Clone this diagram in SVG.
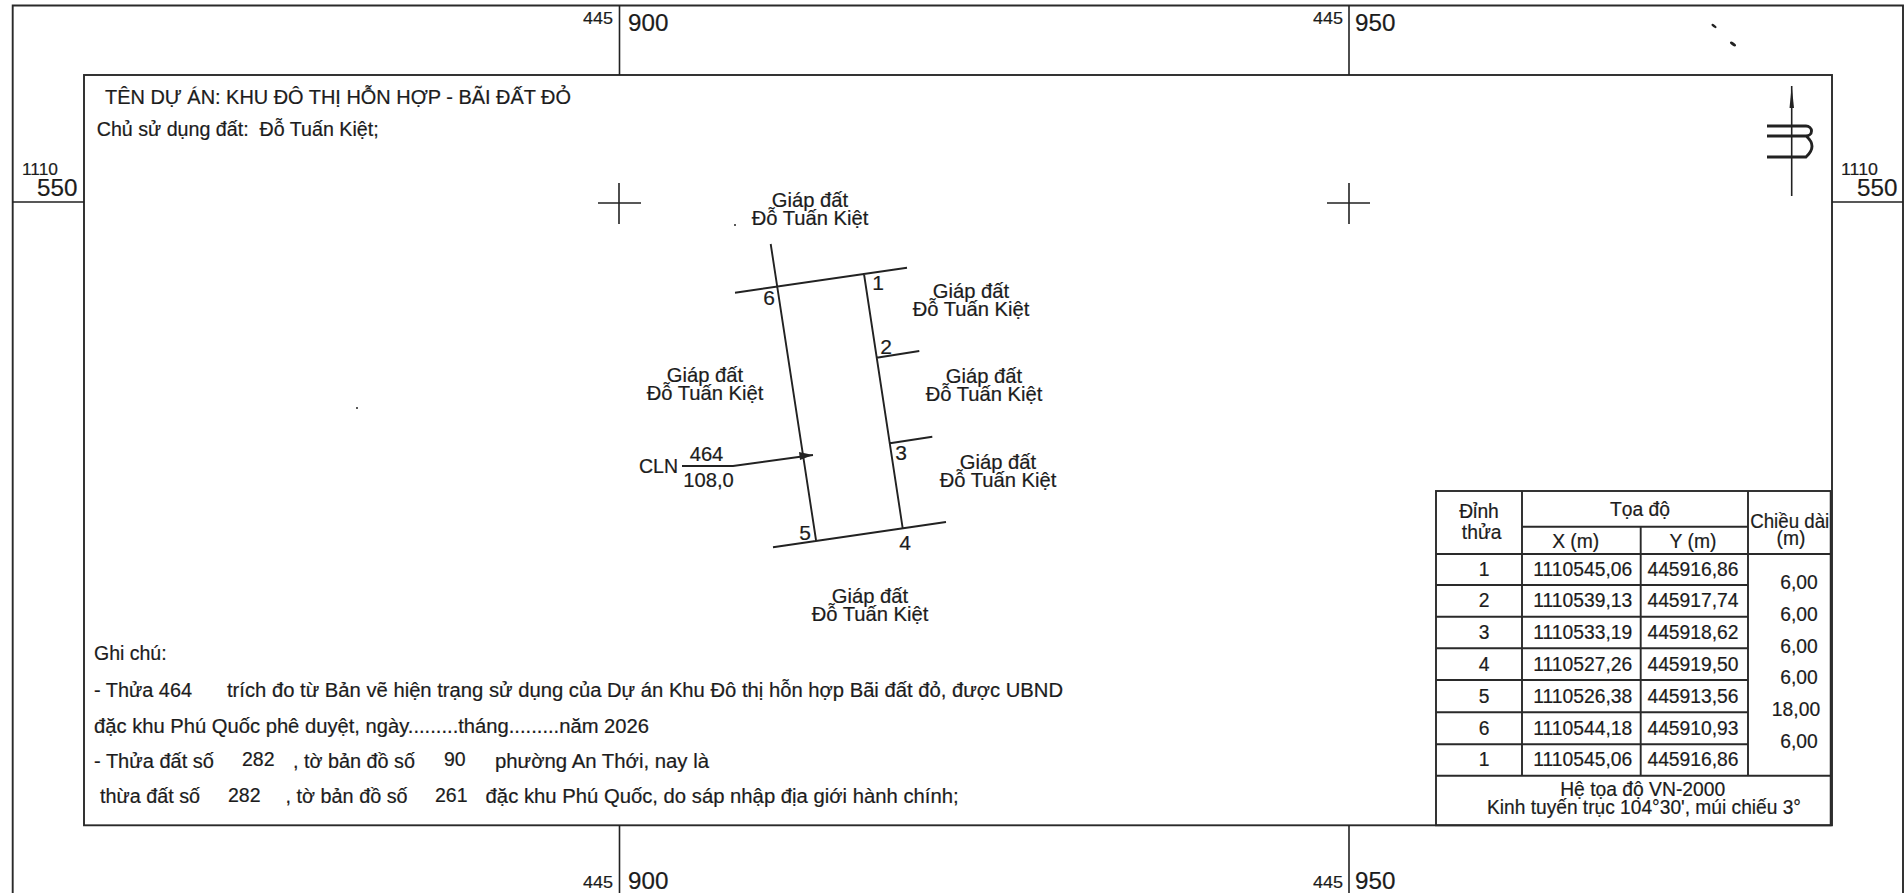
<svg xmlns="http://www.w3.org/2000/svg" width="1904" height="893" viewBox="0 0 1904 893">
<style>
text{font-family:"Liberation Sans",Arial,sans-serif;fill:#1c1c1c;font-size:19.5px;stroke:#1c1c1c;stroke-width:.2px}
.m{text-anchor:middle}
.t{font-size:19.3px;text-anchor:middle}
.b{font-size:20.2px;text-anchor:middle}
.n{font-size:21px;text-anchor:middle}
.big{font-size:24.2px}
.sm{font-size:16.8px}
.l{stroke:#222;stroke-width:1.6;fill:none}
.f{stroke:#2a2a2a;stroke-width:1.9;fill:none}
.g{stroke:#222;stroke-width:1.9;fill:none}
</style>
<rect width="1904" height="893" fill="#fff"/>
<g id="frame">
<path class="f" d="M12.700 893V5.500H1903V893"/>
<rect class="f" x="84" y="75" width="1748" height="750.300"/>
<path class="l" d="M619.500 5.500V75M1349 5.500V75M619.500 825V893M1349 825V893M12.700 202H84M1832 202H1903"/>
<path class="l" d="M598 203H641M619 183V224M1327 203H1370M1349 183V224"/>
</g>
<g id="grid-labels">
<text class="sm" x="583" y="24" textLength="30" lengthAdjust="spacingAndGlyphs">445</text><text class="big" x="628" y="31">900</text>
<text class="sm" x="1313" y="24" textLength="30" lengthAdjust="spacingAndGlyphs">445</text><text class="big" x="1355" y="31">950</text>
<text class="sm" x="583" y="888" textLength="30" lengthAdjust="spacingAndGlyphs">445</text><text class="big" x="628" y="889">900</text>
<text class="sm" x="1313" y="888" textLength="30" lengthAdjust="spacingAndGlyphs">445</text><text class="big" x="1355" y="889">950</text>
<text class="sm" x="22" y="175" textLength="36" lengthAdjust="spacingAndGlyphs">1110</text><text class="big" x="37" y="196">550</text>
<text class="sm" x="1841" y="175" textLength="37" lengthAdjust="spacingAndGlyphs">1110</text><text class="big" x="1857" y="196">550</text>
</g>
<g id="header">
<text x="105" y="103.500" textLength="466" lengthAdjust="spacingAndGlyphs">TÊN DỰ ÁN: KHU ĐÔ THỊ HỖN HỢP - BÃI ĐẤT ĐỎ</text>
<text x="96.700" y="135.700" textLength="282" lengthAdjust="spacingAndGlyphs" xml:space="preserve">Chủ sử dụng đất:  Đỗ Tuấn Kiệt;</text>
</g>
<g id="north-arrow">
<path class="l" d="M1791.700 86V196"/>
<path d="M1791.700 86L1789.500 108H1794Z" fill="#222"/>
<path d="M1767 126H1806A5.500 5 0 0 1 1806 136H1767M1806 136Q1818 146 1806 157H1767" fill="none" stroke="#222" stroke-width="2.900"/>
</g>
<g id="connectors">
<path class="g" d="M735 292.700L907 267.700M770.700 244L816 540M773 547.300L946 522M864 274L902.700 528.300M876.700 357.700L919.300 351M890 443.300L932.300 436.700"/>
<path class="g" d="M682 466H733L813 455"/>
<path d="M799 452L813 455L800 460Z" fill="#222"/>
</g>
<g id="parcel-labels">
<text class="n" x="769" y="305">6</text>
<text class="n" x="878" y="290">1</text>
<text class="n" x="886" y="354">2</text>
<text class="n" x="901" y="460">3</text>
<text class="n" x="905" y="550">4</text>
<text class="n" x="805" y="540">5</text>
<text x="639" y="473">CLN</text>
<text class="b" x="706.500" y="461">464</text>
<text class="b" x="708.500" y="487">108,0</text>
</g>
<g id="neighbour-top"><text class="b" x="810" y="207">Giáp đất</text><text class="b" x="810" y="225">Đỗ Tuấn Kiệt</text></g>
<g id="neighbour-right-1"><text class="b" x="971" y="298">Giáp đất</text><text class="b" x="971" y="316">Đỗ Tuấn Kiệt</text></g>
<g id="neighbour-right-2"><text class="b" x="984" y="383">Giáp đất</text><text class="b" x="984" y="401">Đỗ Tuấn Kiệt</text></g>
<g id="neighbour-right-3"><text class="b" x="998" y="469">Giáp đất</text><text class="b" x="998" y="487">Đỗ Tuấn Kiệt</text></g>
<g id="neighbour-left"><text class="b" x="705" y="382">Giáp đất</text><text class="b" x="705" y="400">Đỗ Tuấn Kiệt</text></g>
<g id="neighbour-bottom"><text class="b" x="870" y="603">Giáp đất</text><text class="b" x="870" y="621">Đỗ Tuấn Kiệt</text></g>
<g id="notes">
<text x="94" y="660">Ghi chú:</text>
<text x="94" y="697" textLength="98" lengthAdjust="spacingAndGlyphs">- Thửa 464</text>
<text x="227" y="697" textLength="836" lengthAdjust="spacingAndGlyphs">trích đo từ Bản vẽ hiện trạng sử dụng của Dự án Khu Đô thị hỗn hợp Bãi đất đỏ, được UBND</text>
<text x="94" y="733" textLength="555" lengthAdjust="spacingAndGlyphs">đặc khu Phú Quốc phê duyệt, ngày.........tháng.........năm 2026</text>
<text x="94" y="768.300" textLength="120" lengthAdjust="spacingAndGlyphs">- Thửa đất số</text>
<text x="242" y="766">282</text>
<text x="293" y="768.300" textLength="122" lengthAdjust="spacingAndGlyphs">, tờ bản đồ số</text>
<text x="444" y="766">90</text>
<text x="495" y="768.300" textLength="214" lengthAdjust="spacingAndGlyphs">phường An Thới, nay là</text>
<text x="100" y="803.300" textLength="100" lengthAdjust="spacingAndGlyphs">thừa đất số</text>
<text x="228" y="802">282</text>
<text x="285.600" y="803.300" textLength="122" lengthAdjust="spacingAndGlyphs">, tờ bản đồ số</text>
<text x="435" y="802">261</text>
<text x="485.600" y="803.300" textLength="473" lengthAdjust="spacingAndGlyphs">đặc khu Phú Quốc, do sáp nhập địa giới hành chính;</text>
</g>
<g id="table">
<rect class="f" x="1436" y="491" width="394.700" height="334.300" fill="#fff"/>
<path class="f" d="M1522 491V775.700M1748 491V775.700M1640.700 526.700V775.700M1522 526.700H1748M1436 554H1830.700M1436 585H1748M1436 616.700H1748M1436 648.300H1748M1436 680H1748M1436 712.300H1748M1436 744.300H1748M1436 775.700H1830.700"/>
<text class="t" x="1479" y="518">Đỉnh</text><text class="t" x="1481.700" y="538.500">thửa</text>
<text class="t" x="1640" y="516">Tọa độ</text>
<text class="t" x="1575.700" y="548">X (m)</text><text class="t" x="1693" y="548">Y (m)</text>
<text class="t" x="1789.700" y="528" textLength="79" lengthAdjust="spacingAndGlyphs">Chiều dài</text><text class="t" x="1791" y="545">(m)</text>
<text class="t" x="1484" y="576">1</text><text class="t" x="1582.700" y="576">1110545,06</text><text class="t" x="1693" y="576">445916,86</text>
<text class="t" x="1484" y="607.300">2</text><text class="t" x="1582.700" y="607.300">1110539,13</text><text class="t" x="1693" y="607.300">445917,74</text>
<text class="t" x="1484" y="639">3</text><text class="t" x="1582.700" y="639">1110533,19</text><text class="t" x="1693" y="639">445918,62</text>
<text class="t" x="1484" y="670.700">4</text><text class="t" x="1582.700" y="670.700">1110527,26</text><text class="t" x="1693" y="670.700">445919,50</text>
<text class="t" x="1484" y="702.700">5</text><text class="t" x="1582.700" y="702.700">1110526,38</text><text class="t" x="1693" y="702.700">445913,56</text>
<text class="t" x="1484" y="735">6</text><text class="t" x="1582.700" y="735">1110544,18</text><text class="t" x="1693" y="735">445910,93</text>
<text class="t" x="1484" y="766">1</text><text class="t" x="1582.700" y="766">1110545,06</text><text class="t" x="1693" y="766">445916,86</text>
<text class="t" x="1799" y="589.300">6,00</text><text class="t" x="1799" y="621">6,00</text><text class="t" x="1799" y="652.700">6,00</text><text class="t" x="1799" y="684">6,00</text><text class="t" x="1796" y="716">18,00</text><text class="t" x="1799" y="748.300">6,00</text>
<text class="t" x="1642.700" y="796">Hệ tọa độ VN-2000</text>
<text class="t" x="1644" y="814.300" textLength="314" lengthAdjust="spacingAndGlyphs">Kinh tuyến trục 104°30', múi chiếu 3°</text>
</g>
<g id="specks" fill="#222">
<ellipse cx="1714" cy="26" rx="3" ry="1.300" transform="rotate(35 1714 26)"/>
<ellipse cx="1733" cy="44" rx="3.500" ry="1.500" transform="rotate(35 1733 44)"/>
<circle cx="735" cy="225" r="1"/>
<circle cx="357" cy="408" r="1"/>
</g>
</svg>
